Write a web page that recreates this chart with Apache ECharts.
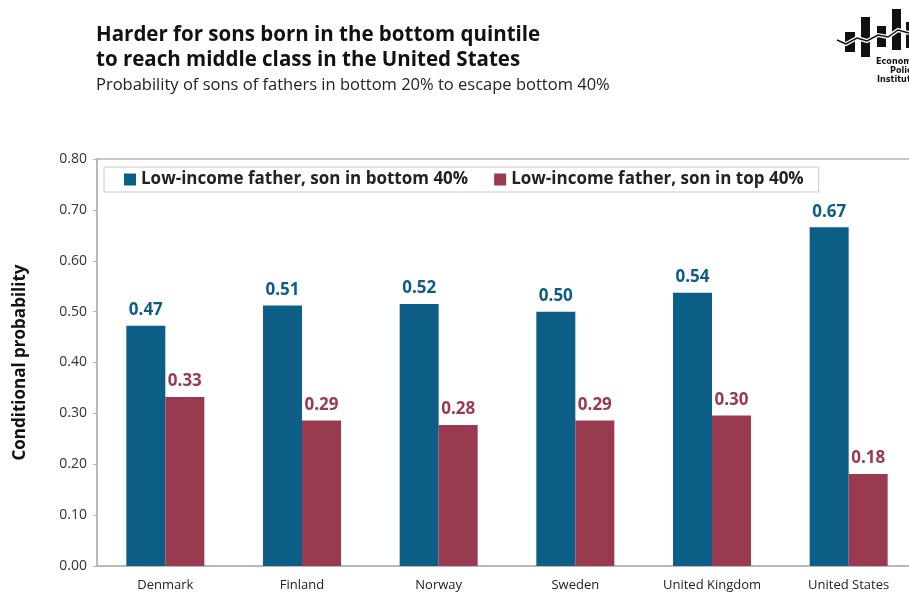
<!DOCTYPE html>
<html lang="en" style="height: 100%">
<head>
  <meta charset="utf-8">
</head>
<body style="height: 100%; margin: 0; background: #fff">
  <div id="container" style="width: 909px; height: 593px"></div>
  <script type="text/javascript" src="https://cdn.jsdelivr.net/npm/echarts@6/dist/echarts.min.js"></script>
  <script type="text/javascript">
    var countries = ['Denmark', 'Finland', 'Norway', 'Sweden', 'United Kingdom', 'United States'];
    var bottom40 = [0.472, 0.512, 0.515, 0.500, 0.537, 0.666];
    var top40 = [0.332, 0.286, 0.277, 0.286, 0.296, 0.181];
    var yTicks = [0, 0.1, 0.2, 0.3, 0.4, 0.5, 0.6, 0.7, 0.8];

    var blue = '#0d5e86';
    var red = '#993a50';
    var font = '"Open Sans", sans-serif';

    var dom = document.getElementById('container');
    var myChart = echarts.init(dom, null, { renderer: 'canvas' });

    function labelFor(color) {
      return {
        show: true,
        position: 'top',
        distance: 7,
        color: color,
        fontFamily: font,
        fontWeight: 'bold',
        fontSize: 17,
        formatter: function (p) { return p.value.toFixed(2); }
      };
    }

    var option = {
      animation: false,
      textStyle: { fontFamily: font },
      grid: {
        left: 97, top: 159, bottom: 27, width: 820,
        outerBoundsMode: 'none',
        show: true, borderColor: '#b5b5b5', borderWidth: 1.5
      },
      legend: {
        left: 104, top: 167,
        padding: [4, 15, 4, 20],
        itemGap: 26,
        borderColor: '#c8c8c8', borderWidth: 1,
        itemWidth: 12, itemHeight: 12,
        icon: 'rect',
        textStyle: { fontFamily: font, fontWeight: 'bold', fontSize: 17, color: '#222' }
      },
      xAxis: {
        type: 'category',
        data: countries,
        axisLine: { lineStyle: { color: '#b5b5b5', width: 1.5 } },
        axisTick: { length: 4, lineStyle: { color: '#b5b5b5' } },
        axisLabel: { color: '#222', fontSize: 13, margin: 13 }
      },
      yAxis: {
        type: 'value',
        min: yTicks[0],
        max: yTicks[yTicks.length - 1],
        interval: 0.1,
        name: 'Conditional probability',
        nameLocation: 'middle',
        nameGap: 68,
        nameTextStyle: { fontWeight: 'bold', fontSize: 17, color: '#111' },
        axisLine: { show: true, lineStyle: { color: '#b5b5b5', width: 1.5 } },
        axisTick: { show: true, length: 4, lineStyle: { color: '#b5b5b5' } },
        splitLine: { show: false },
        axisLabel: {
          color: '#333', fontSize: 14, margin: 10,
          formatter: function (v) { return v.toFixed(2); }
        }
      },
      series: [
        {
          name: 'Low-income father, son in bottom 40%',
          type: 'bar',
          data: bottom40,
          barWidth: 39,
          barGap: '0%',
          itemStyle: { color: blue },
          label: labelFor(blue)
        },
        {
          name: 'Low-income father, son in top 40%',
          type: 'bar',
          data: top40,
          barWidth: 39,
          barGap: '0%',
          itemStyle: { color: red },
          label: labelFor(red)
        }
      ],
      graphic: [
        {
          type: 'text', left: 96, top: 23,
          style: {
            text: 'Harder for sons born in the bottom quintile\nto reach middle class in the United States',
            font: 'bold 20.5px "Open Sans", sans-serif', lineHeight: 25, fill: '#111'
          }
        },
        {
          type: 'text', left: 96, top: 77,
          style: { text: 'Probability of sons of fathers in bottom 20% to escape bottom 40%', font: '16.5px "Open Sans", sans-serif', fill: '#222' }
        },
        // EPI logo (cut off at right edge)
        { type: 'rect', shape: { x: 845, y: 32, width: 10, height: 20 }, style: { fill: '#111' } },
        { type: 'rect', shape: { x: 861, y: 17, width: 9, height: 40 }, style: { fill: '#111' } },
        { type: 'rect', shape: { x: 877, y: 26, width: 9, height: 21 }, style: { fill: '#111' } },
        { type: 'rect', shape: { x: 892, y: 9, width: 9, height: 41 }, style: { fill: '#111' } },
        { type: 'rect', shape: { x: 906, y: 22, width: 9, height: 26 }, style: { fill: '#111' } },
        {
          type: 'polyline',
          shape: { points: [[837, 40], [846, 44], [857, 38], [867, 41], [878, 35], [888, 37], [898, 30], [909, 33]] },
          style: { stroke: '#fff', lineWidth: 4, fill: null }
        },
        {
          type: 'polyline',
          shape: { points: [[837, 40], [846, 44], [857, 38], [867, 41], [878, 35], [888, 37], [898, 30], [909, 33]] },
          style: { stroke: '#111', lineWidth: 1.5, fill: null }
        },
        {
          type: 'text', left: 876, top: 57,
          style: { text: 'Economic', font: 'bold 9px "Liberation Sans Narrow", "DejaVu Sans Condensed", sans-serif', fill: '#111' }
        },
        {
          type: 'text', left: 890, top: 66,
          style: { text: 'Policy', font: 'bold 9px "Liberation Sans Narrow", "DejaVu Sans Condensed", sans-serif', fill: '#111' }
        },
        {
          type: 'text', left: 877, top: 75,
          style: { text: 'Institute', font: 'bold 9px "Liberation Sans Narrow", "DejaVu Sans Condensed", sans-serif', fill: '#111' }
        }
      ]
    };

    myChart.setOption(option);
    window.addEventListener('resize', myChart.resize);
  </script>
</body>
</html>
